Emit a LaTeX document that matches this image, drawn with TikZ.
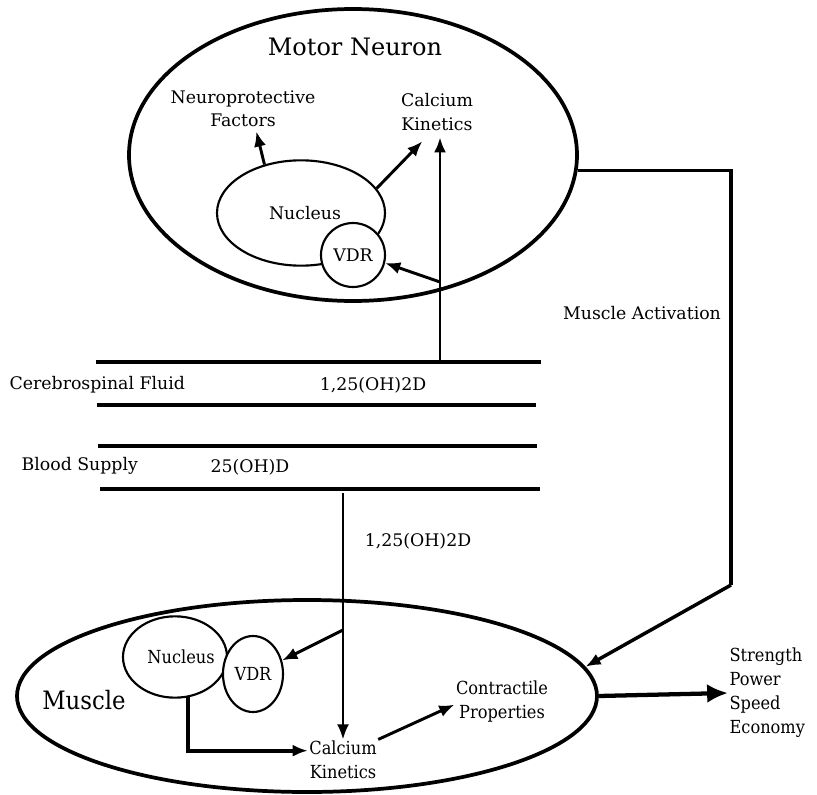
\documentclass[tikz,border=0pt]{standalone}
\usepackage{fontspec}
\setmainfont{DejaVu Serif}
\newfontfamily\condfont{DejaVu Serif Condensed}
\usepackage{tikz}
\usetikzlibrary{arrows.meta,positioning,calc,shapes.geometric}
\tikzset{
  cell/.style={ellipse, draw, line width=2.8pt, inner sep=0pt},
  organelle/.style={ellipse, draw, line width=1.6pt, inner sep=0pt},
  lbl/.style={align=center, inner sep=1pt, font=\fontsize{13}{17.5}\selectfont},
  mlbl/.style={align=center, inner sep=1pt, font=\condfont\fontsize{13.5}{18}\selectfont},
  layer/.style={line width=3.2pt},
  arrow/.style={-{Latex[length=4mm,width=3.2mm]}, line width=2.2pt},
  bigarrow/.style={-{Latex[length=5.5mm,width=5mm]}, line width=3.2pt},
  plainline/.style={line width=2.6pt}
}
\begin{document}
\begin{tikzpicture}[x=0.75pt,y=-0.75pt]
\useasboundingbox (0,0) rectangle (817,795);
% motor neuron
\node[cell, minimum width=336pt, minimum height=219pt] (mn) at (353,155) {};
\node[font=\fontsize{18}{21}\selectfont] (mnTitle) at (355,47) {Motor Neuron};
\node[organelle, minimum width=126pt, minimum height=79pt] (nucMN) at (301,213) {};
\node[lbl] at (305,213) {Nucleus};
\node[circle, draw, fill=white, line width=1.6pt, minimum size=48pt, inner sep=0pt, lbl] (vdrMN) at (353,255) {VDR};
\node[lbl] (neuro) at (243,109) {Neuroprotective\\Factors};
\node[lbl] (ckMN) at (437,112) {Calcium\\Kinetics};
\draw[arrow] (nucMN.127) -- ([xshift=10pt,yshift=-2pt]neuro.south);
\draw[arrow] (nucMN.18) -- ([xshift=-11pt,yshift=-7pt]ckMN.south);
% fluid layers
\coordinate (csfUp) at (440,362);
\coordinate (branchMN) at (440,282);
\draw[layer] (96,362) -- (541,362);
\draw[layer] (97,405) -- (536,405);
\draw[layer] (98,446) -- (537,446);
\draw[layer] (100,489) -- (540,489);
\node[lbl, anchor=west] (csf) at (8,385) {Cerebrospinal Fluid};
\node[lbl] (csfD) at (373,385) {1,25(OH)2D};
\node[lbl, anchor=west] (blood) at (20,466) {Blood Supply};
\node[lbl] (bloodD) at (250,467) {25(OH)D};
\draw[arrow] (csfUp) -- ([yshift=-4pt]csfUp |- ckMN.south);
\draw[arrow] (branchMN) -- (vdrMN.-14);
% muscle
\node[cell, minimum width=435pt, minimum height=144pt] (musc) at (307,696) {};
\node[font=\condfont\fontsize{19}{22}\selectfont] (muscTitle) at (84,700) {Muscle};
\node[organelle, minimum width=78pt, minimum height=61pt] (nucM) at (175,657) {};
\node[mlbl] at (181,657) {Nucleus};
\node[organelle, fill=white, minimum width=45pt, minimum height=57pt, mlbl] (vdrM) at (253,674) {VDR};
\node[mlbl] (ckM) at (343,760) {Calcium\\Kinetics};
\node[mlbl] (contr) at (502,702) {Contractile\\Properties};
\node[mlbl, align=left, anchor=west] (perf) at (728,693) {Strength\\Power\\Speed\\Economy};
\coordinate (bloodDown) at (343,493);
\coordinate (branchM) at (343,630);
\node[lbl] (muscD) at (418,541) {1,25(OH)2D};
\draw[arrow, line width=1.8pt] (bloodDown) -- (ckM.north);
\draw[arrow] (branchM) -- (vdrM.25);
\draw[arrow, line width=2.8pt] (nucM.-72) |- ([yshift=7pt]ckM.west);
\draw[arrow] (ckM.north east) -- ([yshift=-2pt]contr.west);
\draw[bigarrow] (musc.east) -- (perf.west);
% activation
\coordinate (actTop) at (731,174);
\coordinate (actBot) at (731,585);
\node[lbl] (act) at (642,313) {Muscle Activation};
\draw[plainline] (mn.-4) -- (mn.-4 -| actTop) -- (actBot);
\draw[arrow, line width=2.6pt] (actBot) -- (musc.6);
\end{tikzpicture}
\end{document}
